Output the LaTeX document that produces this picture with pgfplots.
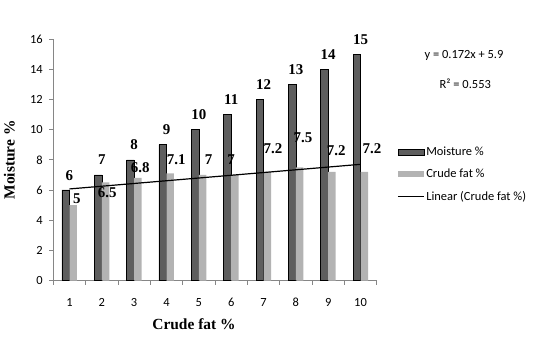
\documentclass[border=0pt]{standalone}
\usepackage{pgfplots}
\pgfplotsset{compat=1.18}
\usepackage{pgfplotstable}
\usepackage{fontspec}
\setmainfont{Liberation Serif}
\newfontfamily\carlito{Carlito}
\definecolor{darkbar}{HTML}{5E5E5E}
\definecolor{lightbar}{HTML}{B3B3B3}
\definecolor{axisgray}{HTML}{868686}
\pgfplotstableread{
x y
1 6
2 7
3 8
4 9
5 10
6 11
7 12
8 13
9 14
10 15
}\moisture
\pgfplotstableread{
x y dx dy
1 5 7.5 6
2 6.5 5.5 -10.3
3 6.8 6.1 10.2
4 7.1 9.7 14.1
5 7 9.7 15.6
6 7 0 15.6
7 7.2 9.4 22.9
8 7.5 7.1 29.7
9 7.2 8 20.9
10 7.2 11.4 22.9
}\crudefat
\begin{document}
\begin{tikzpicture}
\path[use as bounding box] (-53.3bp,-74.4bp) rectangle (493.7bp,280.6bp);
\begin{axis}[
  at={(0,0)}, anchor=south west,
  scale only axis, width=323.4bp, height=241.6bp,
  xmin=0.5, xmax=10.5, ymin=0, ymax=16,
  axis x line*=bottom, axis y line*=left,
  axis line style={axisgray, line width=0.8bp, -},
  tick align=outside,
  xtick={1,...,10}, ytick={0,2,...,16},
  minor xtick={0.5,1.5,...,10.5},
  major x tick style={draw=none},
  minor x tick style={axisgray, line width=0.8bp},
  ytick style={axisgray, line width=0.8bp},
  major tick length=4bp, minor tick length=4bp,
  /pgf/number format/assume math mode=true,
  tick label style={font=\carlito\fontsize{12.5}{14}\selectfont, text=black},
  xticklabel style={yshift=-10bp},
  yticklabel style={xshift=-3bp},
  xlabel={Crude fat \%}, ylabel={Moisture \%},
  label style={font=\bfseries\fontsize{15.5}{17}\selectfont},
  xlabel style={at={(axis description cs:0.435,-0.18)}, anchor=center},
  ylabel style={at={(axis description cs:-0.136,0.5)}, anchor=center},
  legend style={at={(1.063,0.4386)}, anchor=west, draw=none, fill=none, inner sep=0pt, row sep=8bp, font=\carlito\fontsize{12.5}{14}\selectfont},
  legend cell align=left,
  clip=false,
]
\addplot[ybar, bar width=7.5bp, bar shift=-3.75bp, fill=darkbar, draw=black, line width=0.5bp,
  nodes near coords,
  every node near coord/.append style={font=\bfseries\fontsize{15}{17}\selectfont, anchor=center, yshift=14.8bp, text=black},
  legend image code/.code={\draw[fill=darkbar, draw=black, line width=0.5bp] (0bp,-3bp) rectangle (26bp,3bp);}]
  table[x=x,y=y]{\moisture};
\addlegendentry{Moisture \%}
\addplot[ybar, bar width=7.5bp, bar shift=3.75bp, fill=lightbar, draw=none,
  nodes near coords,
  visualization depends on={\thisrow{dx} \as \mydx},
  visualization depends on={\thisrow{dy} \as \mydy},
  every node near coord/.append style={font=\bfseries\fontsize{15}{17}\selectfont, anchor=center, xshift=\mydx bp, yshift=\mydy bp, text=black},
  legend image code/.code={\fill[lightbar] (0bp,-3bp) rectangle (26bp,3bp);}]
  table[x=x,y=y]{\crudefat};
\addlegendentry{Crude fat \%}
\addplot[sharp plot, black, line width=1.2bp, mark=none,
  legend image code/.code={\draw[black, line width=1bp] (0bp,0bp) -- (26bp,0bp);}]
  coordinates {(1,6.07) (10,7.7)};
\addlegendentry{Linear (Crude fat \%)}
\end{axis}
\node[font=\carlito\fontsize{12.5}{14}\selectfont] at (410.7bp,224.9bp) {y = 0.172x + 5.9};
\node[font=\carlito\fontsize{12.5}{14}\selectfont] at (412bp,197.3bp) {R² = 0.553};
\end{tikzpicture}
\end{document}
